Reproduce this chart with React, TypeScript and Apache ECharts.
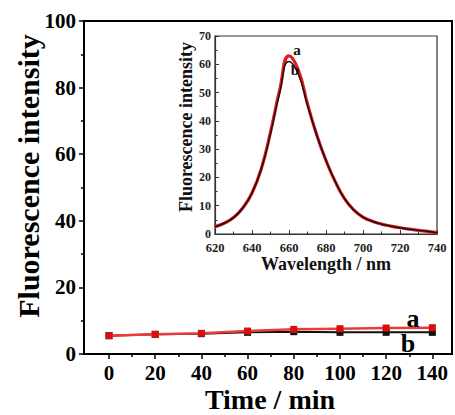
import React, { useEffect, useRef } from "react";
import * as echarts from "echarts";

const times = [0, 20, 40, 60, 80, 100, 120, 140];
const seriesA = [5.5, 5.9, 6.2, 6.9, 7.4, 7.6, 7.8, 7.9];
const seriesB = [5.5, 5.9, 6.1, 6.5, 6.7, 6.5, 6.5, 6.5];

const wavelengths = [620, 625, 630, 635, 640, 645, 650, 655, 660, 665, 670, 675, 680, 685, 690, 695, 700, 705, 710, 715, 720, 725, 730, 735, 740];
const spectrumA = [2.6, 3.8, 5.8, 9.2, 14.5, 23, 36, 51, 63, 58, 46, 35, 26, 18.5, 12.5, 8.5, 6, 4.5, 3.5, 2.8, 2.2, 1.7, 1.3, 0.9, 0.5];
const spectrumB = [2.6, 3.8, 5.8, 9.2, 14.5, 23, 35.5, 50, 61, 56.5, 45.5, 35, 26, 18.5, 12.5, 8.5, 6, 4.5, 3.5, 2.8, 2.2, 1.7, 1.3, 0.9, 0.5];

const mainXLabels = [0, 20, 40, 60, 80, 100, 120, 140];
const mainXMinor = [10, 30, 50, 70, 90, 110, 130];

const FONT = "Liberation Serif";
const RED = "#e2191d";
const BLACK = "#111111";

export default function App() {
  const ref = useRef<HTMLDivElement>(null);
  useEffect(() => {
    document.body.style.margin = "0";
    if (!ref.current) return;
    const chart = echarts.init(ref.current, undefined, { renderer: "svg" });
    const bold = { fontFamily: FONT, fontWeight: "bold" as const, color: "#000" };
    chart.setOption({
      animation: false,
      backgroundColor: "#fff",
      grid: [
        { left: 84, top: 21, width: 368, height: 333, show: true, borderColor: "#000", borderWidth: 2, backgroundColor: "transparent" },
        { left: 215, top: 36, width: 222, height: 198, show: true, borderColor: "#333", borderWidth: 1.2, backgroundColor: "#fff", z: 5 },
      ],
      xAxis: [
        {
          type: "value", gridIndex: 0, min: -10.82, max: 148.5,
          axisLine: { show: true, onZero: false, lineStyle: { color: "#000", width: 2 } },
          axisTick: { show: true, inside: false, length: 5, customValues: mainXLabels, lineStyle: { color: "#000", width: 1.5 } },
          axisLabel: { show: true, customValues: mainXLabels, margin: 8, fontSize: 21, ...bold },
          splitLine: { show: false },
        },
        {
          type: "value", gridIndex: 0, min: -10.82, max: 148.5, position: "bottom",
          axisLine: { show: false, onZero: false },
          axisTick: { show: true, inside: false, length: 3, customValues: mainXMinor, lineStyle: { color: "#000", width: 1.5 } },
          axisLabel: { show: false },
          splitLine: { show: false },
        },
        {
          type: "value", gridIndex: 1, min: 620, max: 740, interval: 20,
          axisLine: { show: true, onZero: false, lineStyle: { color: "#333", width: 1.2 } },
          axisTick: { show: true, inside: true, length: 4, lineStyle: { color: "#333" } },
          minorTick: { show: true, splitNumber: 2, length: 2.5, lineStyle: { color: "#333" } },
          axisLabel: { margin: 7, fontSize: 12.5, ...bold, color: "#222" },
          splitLine: { show: false },
          z: 6,
        },
      ],
      yAxis: [
        {
          type: "value", gridIndex: 0, min: 0, max: 100, interval: 20,
          axisLine: { show: true, onZero: false, lineStyle: { color: "#000", width: 2 } },
          axisTick: { show: true, inside: false, length: 5, lineStyle: { color: "#000", width: 1.5 } },
          minorTick: { show: true, splitNumber: 2, length: 3, lineStyle: { color: "#000", width: 1.5 } },
          axisLabel: { margin: 8, fontSize: 21, ...bold },
          splitLine: { show: false },
        },
        {
          type: "value", gridIndex: 1, min: 0, max: 70, interval: 10,
          axisLine: { show: true, onZero: false, lineStyle: { color: "#333", width: 1.2 } },
          axisTick: { show: true, inside: true, length: 4, lineStyle: { color: "#333" } },
          minorTick: { show: true, splitNumber: 2, length: 2.5, lineStyle: { color: "#333" } },
          axisLabel: { margin: 4, fontSize: 12, ...bold, color: "#222" },
          splitLine: { show: false },
          z: 6,
        },
      ],
      series: [
        {
          type: "line", xAxisIndex: 0, yAxisIndex: 0,
          data: times.map((t, i) => [t, seriesB[i]]),
          symbol: "rect", symbolSize: 7,
          lineStyle: { color: BLACK, width: 2 },
          itemStyle: { color: BLACK },
          z: 2,
        },
        {
          type: "line", xAxisIndex: 0, yAxisIndex: 0,
          data: times.map((t, i) => [t, seriesA[i]]),
          symbol: "rect", symbolSize: 7,
          lineStyle: { color: "#ec3b3b", width: 2.5 },
          itemStyle: { color: "#d90f0f" },
          z: 3,
        },
        {
          type: "line", xAxisIndex: 2, yAxisIndex: 1,
          data: wavelengths.map((w, i) => [w, spectrumA[i]]),
          smooth: 0.5, symbol: "none",
          lineStyle: { color: RED, width: 3.2 },
          z: 7,
        },
        {
          type: "line", xAxisIndex: 2, yAxisIndex: 1,
          data: wavelengths.map((w, i) => [w, spectrumB[i]]),
          smooth: 0.5, symbol: "none",
          lineStyle: { color: BLACK, width: 1.4 },
          z: 8,
        },
      ],
      graphic: [
        { type: "text", x: 28, y: 176, rotation: Math.PI / 2, z: 10, style: { text: "Fluorescence intensity", font: `bold 30px '${FONT}'`, fill: "#000", textAlign: "center", textVerticalAlign: "middle" } },
        { type: "text", x: 270, y: 399, z: 10, style: { text: "Time / min", font: `bold 28px '${FONT}'`, fill: "#000", textAlign: "center", textVerticalAlign: "middle" } },
        { type: "text", x: 186, y: 127, rotation: Math.PI / 2, z: 10, style: { text: "Fluorescence intensity", font: `bold 18px '${FONT}'`, fill: "#111", textAlign: "center", textVerticalAlign: "middle" } },
        { type: "text", x: 326, y: 264, z: 10, style: { text: "Wavelength / nm", font: `bold 18px '${FONT}'`, fill: "#111", textAlign: "center", textVerticalAlign: "middle" } },
        { type: "text", x: 297, y: 50, z: 10, style: { text: "a", font: `bold 15px '${FONT}'`, fill: "#111", textAlign: "center", textVerticalAlign: "middle" } },
        { type: "text", x: 295, y: 70, z: 10, style: { text: "b", font: `bold 15px '${FONT}'`, fill: "#111", textAlign: "center", textVerticalAlign: "middle" } },
        { type: "text", x: 413, y: 318, z: 10, style: { text: "a", font: `bold 26px '${FONT}'`, fill: "#000", textAlign: "center", textVerticalAlign: "middle" } },
        { type: "text", x: 408, y: 343, z: 10, style: { text: "b", font: `bold 26px '${FONT}'`, fill: "#000", textAlign: "center", textVerticalAlign: "middle" } },
      ],
    });
    return () => chart.dispose();
  }, []);
  return <div ref={ref} style={{ width: 455, height: 415 }} />;
}
